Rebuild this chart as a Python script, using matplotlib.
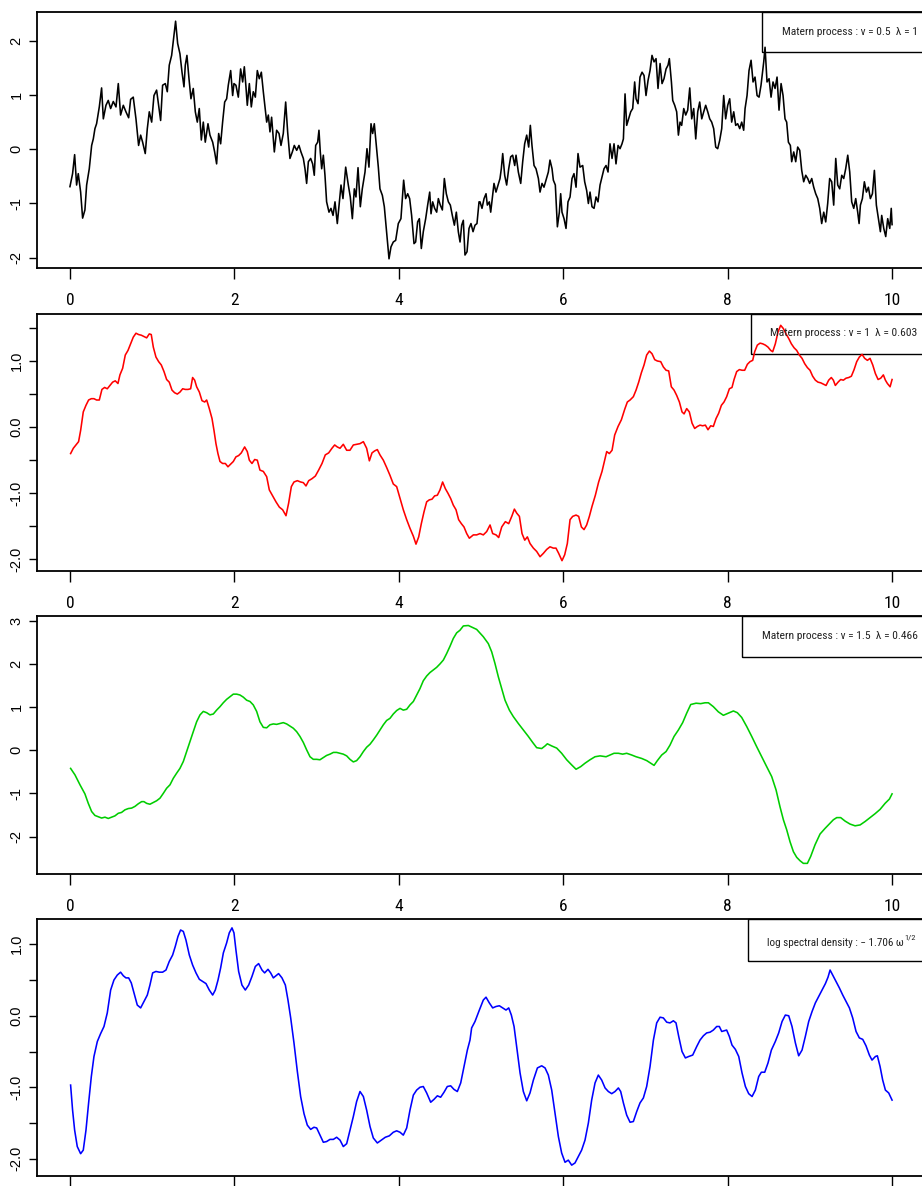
import matplotlib
matplotlib.use('Agg')
import matplotlib.pyplot as plt
from matplotlib import font_manager as fm
from matplotlib.patches import Rectangle

# ---- panel 1 : Matern nu = 0.5 (black)
nu05_x = [0.000,0.032,0.057,0.081,0.101,0.130,0.154,0.182,0.203,0.235,
          0.264,0.284,0.304,0.324,0.357,0.385,0.406,0.438,0.466,0.495,
          0.527,0.560,0.588,0.616,0.649,0.681,0.714,0.738,0.770,0.803,
          0.835,0.860,0.884,0.916,0.941,0.965,0.994,1.022,1.054,1.079,
          1.103,1.127,1.160,1.184,1.208,1.237,1.261,1.285,1.310,1.338,
          1.363,1.387,1.403,1.423,1.448,1.472,1.500,1.525,1.549,1.573,
          1.598,1.622,1.646,1.679,1.703,1.736,1.760,1.784,1.809,1.833,
          1.857,1.882,1.906,1.926,1.955,1.979,1.995,2.019,2.048,2.076,
          2.101,2.121,2.141,2.157,2.182,2.206,2.230,2.255,2.279,2.303,
          2.328,2.352,
          2.393,2.413,2.433,2.453,2.486,2.514,2.543,2.567,2.595,2.624,
          2.648,2.676,2.705,2.729,2.758,2.786,2.810,2.839,2.859,2.879,
          2.900,2.928,2.952,2.972,2.989,3.013,3.029,3.045,3.062,3.082,
          3.102,3.122,3.151,3.175,3.200,3.224,3.252,3.273,3.297,3.321,
          3.354,3.386,3.410,3.435,3.459,3.479,3.504,3.532,3.556,3.589,
          3.613,3.637,3.662,3.682,3.702,3.727,3.751,3.771,3.800,3.824,
          3.848,3.881,3.905,3.933,3.962,3.994,4.026,4.059,4.083,4.108,
          4.132,4.156,4.185,4.205,4.229,4.250,4.274,4.298,4.327,4.351,
          4.376,4.392,4.412,4.436,4.461,4.481,4.505,4.530,4.554,4.578,
          4.603,4.627,4.651,4.676,4.700,4.724,4.745,4.765,4.785,4.805,
          4.830,4.854,4.878,4.903,4.927,4.951,4.976,
          4.988,5.012,5.037,5.061,5.077,5.101,5.118,5.142,5.158,5.182,
          5.207,5.231,5.247,5.264,5.288,5.312,5.337,5.361,5.385,5.410,
          5.426,5.454,5.483,5.507,5.531,5.556,5.580,5.600,5.620,5.645,
          5.669,5.698,5.718,5.742,5.766,5.791,5.819,5.839,5.864,5.880,
          5.904,5.929,5.953,5.969,5.985,6.010,6.034,6.058,6.083,6.107,
          6.131,6.156,6.180,6.204,6.237,6.261,6.285,6.306,6.326,6.350,
          6.375,6.399,6.423,6.448,6.472,6.496,6.521,6.545,6.569,6.594,
          6.618,6.642,6.667,6.691,6.715,6.732,6.752,6.772,6.796,6.821,
          6.845,6.869,6.886,6.910,6.934,6.959,6.983,7.007,7.032,7.056,
          7.080,7.105,7.129,7.153,7.178,7.202,7.226,7.251,7.275,7.291,
          7.316,7.332,7.356,
          7.380,7.401,7.421,7.441,7.466,7.490,7.514,7.539,7.563,7.587,
          7.612,7.636,7.660,7.685,7.709,7.733,7.758,7.782,7.806,7.830,
          7.855,7.879,7.903,7.928,7.952,7.976,8.001,8.025,8.049,8.074,
          8.098,8.122,8.147,8.171,8.195,8.212,8.236,8.260,8.285,8.309,
          8.333,8.358,8.382,8.406,8.422,8.439,8.455,8.479,8.504,8.528,
          8.552,8.577,8.601,8.625,8.650,8.674,8.698,8.718,8.739,8.763,
          8.779,8.804,8.828,8.852,8.877,8.901,8.925,8.950,8.974,8.998,
          9.023,9.047,9.071,9.096,9.120,9.144,9.169,9.193,9.217,9.241,
          9.266,9.290,9.315,9.339,9.363,9.388,9.412,9.436,9.461,9.485,
          9.509,9.534,9.558,9.582,9.599,9.615,9.639,9.663,9.688,9.712,
          9.736,9.761,9.785,9.809,9.834,9.858,9.874,9.899,9.923,9.947,
          9.972,9.990,10.0]
nu05_y = [-0.69,-0.45,-0.10,-0.66,-0.45,-0.79,-1.27,-1.12,-0.66,-0.36,
          0.07,0.19,0.38,0.47,0.78,1.13,0.56,0.81,0.90,0.75,
          0.88,0.78,1.21,0.63,0.81,0.69,0.58,0.92,0.96,0.56,
          0.07,0.26,0.13,-0.08,0.38,0.69,0.50,0.99,1.09,0.81,
          0.53,1.18,1.21,1.06,1.55,1.73,2.04,2.36,1.95,1.76,
          1.42,1.15,1.55,1.73,1.30,0.93,1.12,0.69,0.50,0.75,
          0.17,0.50,0.13,0.47,0.26,0.13,-0.05,-0.27,0.29,0.10,
          0.50,0.87,0.93,1.18,1.45,0.99,1.21,1.18,0.96,1.48,
          1.24,1.52,1.15,0.81,1.21,0.78,1.06,0.96,1.45,1.30,
          1.42,1.06,
          0.50,0.63,0.32,0.59,-0.05,0.35,0.29,0.07,0.29,0.87,
          0.32,-0.17,-0.05,0.07,-0.02,0.07,-0.05,-0.17,-0.36,-0.63,
          -0.23,-0.17,-0.27,-0.48,0.07,0.13,0.35,-0.05,-0.36,-0.11,
          -0.48,-0.97,-1.16,-1.09,-1.22,-0.97,-1.37,-1.03,-0.66,-0.91,
          -0.33,-0.66,-0.88,-1.28,-0.73,-0.88,-0.34,-1.06,-0.73,-0.42,
          0.01,-0.33,0.47,0.29,0.47,0.07,-0.33,-0.73,-0.85,-1.06,
          -1.46,-2.02,-1.80,-1.71,-1.68,-1.37,-1.28,-0.57,-0.91,-0.82,
          -0.91,-1.22,-1.74,-1.71,-1.34,-1.28,-1.83,-1.52,-1.28,-1.03,
          -0.79,-1.19,-0.97,-1.09,-1.16,-0.91,-1.03,-1.12,-0.54,-0.82,
          -0.97,-1.03,-1.22,-1.40,-1.16,-1.52,-1.71,-1.40,-1.31,-1.95,
          -1.89,-1.46,-1.37,-1.52,-1.40,-1.37,-0.97,
          -0.97,-1.09,-0.91,-0.82,-1.03,-0.97,-1.16,-0.85,-0.63,-0.79,
          -0.66,-0.54,-0.36,-0.08,-0.48,-0.66,-0.36,-0.14,-0.11,-0.30,
          -0.11,-0.42,-0.63,-0.23,0.10,0.26,0.04,0.44,0.07,-0.30,
          -0.36,-0.54,-0.79,-0.63,-0.70,-0.57,-0.42,-0.20,-0.36,-0.57,
          -0.66,-1.43,-1.16,-0.82,-1.16,-1.28,-1.46,-0.97,-0.88,-0.54,
          -0.45,-0.70,-0.08,-0.33,-0.30,-0.60,-0.76,-1.00,-0.79,-1.06,
          -1.09,-0.88,-0.97,-0.66,-0.51,-0.36,-0.30,-0.42,0.10,-0.17,
          0.10,-0.27,0.07,0.01,0.10,0.19,1.02,0.44,0.56,0.69,
          0.75,1.24,0.93,0.84,1.33,1.42,1.36,0.99,1.27,1.45,
          1.73,1.61,1.67,1.12,1.58,1.21,1.30,1.48,1.55,1.67,
          1.24,0.90,0.81,
          0.69,0.26,0.50,0.44,0.75,0.63,0.72,1.13,0.56,0.75,
          0.19,0.69,0.87,0.56,0.69,0.81,0.69,0.56,0.50,0.38,
          0.04,0.01,0.16,0.38,0.99,0.56,0.81,0.93,0.50,0.69,
          0.44,0.47,0.38,0.50,0.35,0.75,0.99,1.45,1.64,1.24,
          1.33,0.99,0.96,1.18,1.39,1.61,1.88,1.24,1.30,0.96,
          1.24,1.12,1.33,0.72,1.21,0.99,0.56,0.50,0.13,0.07,
          -0.23,-0.05,-0.23,0.04,-0.02,-0.39,-0.60,-0.48,-0.54,-0.63,
          -0.54,-0.70,-0.82,-0.91,-1.09,-1.37,-1.16,-1.34,-1.00,-0.54,
          -0.60,-1.03,-0.17,-0.66,-0.73,-0.48,-0.54,-0.36,-0.11,-0.42,
          -0.97,-1.09,-0.91,-1.16,-1.37,-1.03,-0.91,-0.60,-0.79,-0.70,
          -0.91,-0.82,-0.39,-1.03,-1.28,-1.52,-1.22,-1.46,-1.61,-1.28,
          -1.46,-1.09,-1.39]

# ---- panel 2 : Matern nu = 1 (red)
nu1_x = [0.008,0.041,0.073,0.105,0.130,0.162,0.195,0.227,0.260,0.292,
         0.324,0.357,0.389,0.422,0.454,0.487,0.519,0.551,0.584,0.608,
         0.641,0.673,0.706,0.738,0.770,0.803,0.835,0.868,0.900,0.933,
         0.965,0.989,1.014,1.046,1.079,1.111,1.144,1.176,1.208,1.241,
         1.273,1.306,1.338,1.371,1.403,1.436,1.468,1.492,1.517,1.541,
         1.574,1.606,1.639,1.663,1.695,1.728,1.752,1.776,1.800,1.825,
         1.857,1.890,1.922,1.955,1.987,2.019,2.052,2.084,2.125,2.157,
         2.182,2.214,2.247,2.279,2.311,2.352,2.393,2.425,2.466,2.506,
         2.547,2.587,2.628,2.660,2.693,2.725,2.766,2.806,2.839,2.871,
         2.904,2.944,2.985,3.025,3.066,3.106,3.147,3.187,3.220,3.252,
         3.285,3.325,3.366,3.406,3.447,3.487,3.528,3.569,3.609,3.642,
         3.674,3.706,3.739,3.771,3.812,3.852,3.893,3.933,3.974,4.015,
         4.055,4.096,4.136,4.177,4.209,4.242,4.274,4.307,4.339,4.371,
         4.404,4.436,4.469,4.501,4.533,4.566,4.598,4.631,4.663,4.696,
         4.728,4.761,4.793,4.826,4.858,
         4.907,4.947,4.988,5.028,5.069,5.110,5.142,5.183,5.215,5.252,
         5.296,5.337,5.377,5.406,5.434,5.467,5.499,5.532,5.564,5.596,
         5.637,5.677,5.718,5.758,5.799,5.839,5.880,5.912,5.945,5.985,
         6.018,6.050,6.083,6.115,6.156,6.188,6.221,6.253,6.285,6.318,
         6.350,6.391,6.431,6.472,6.504,6.529,6.561,6.594,6.626,6.667,
         6.707,6.748,6.780,6.813,6.853,6.886,6.918,6.950,6.983,7.015,
         7.048,7.080,7.113,7.145,7.186,7.218,7.251,7.283,7.315,7.348,
         7.380,7.413,7.445,7.470,7.502,7.534,7.567,7.599,7.632,7.664,
         7.696,7.729,7.761,7.794,7.826,7.859,7.891,7.924,7.956,7.988,
         8.021,8.053,8.078,8.110,8.143,8.175,8.207,8.240,8.272,8.305,
         8.329,8.361,8.394,8.426,8.459,8.491,8.524,8.548,8.580,8.613,
         8.645,8.678,8.710,8.743,8.775,8.808,8.840,8.872,8.905,8.937,
         8.970,9.002,9.034,9.067,9.099,9.132,9.164,9.197,9.229,9.261,
         9.286,9.310,9.343,9.375,9.408,9.440,9.473,9.505,9.538,9.570,
         9.602,9.635,9.667,9.700,9.732,9.765,9.797,9.830,9.862,9.894,
         9.919,9.943,9.976,10.0]
nu1_y = [-0.40,-0.32,-0.27,-0.22,-0.05,0.23,0.33,0.41,0.43,0.43,
         0.41,0.41,0.57,0.60,0.58,0.63,0.68,0.70,0.66,0.79,
         0.89,1.09,1.16,1.26,1.36,1.42,1.40,1.39,1.37,1.35,
         1.41,1.40,1.21,1.06,0.99,0.94,0.84,0.72,0.68,0.56,
         0.52,0.50,0.53,0.58,0.57,0.57,0.58,0.75,0.71,0.61,
         0.53,0.40,0.38,0.41,0.28,0.13,-0.05,-0.25,-0.40,-0.52,
         -0.55,-0.55,-0.60,-0.56,-0.52,-0.45,-0.43,-0.39,-0.30,-0.37,
         -0.50,-0.55,-0.49,-0.50,-0.65,-0.67,-0.75,-0.95,-1.04,-1.13,
         -1.21,-1.25,-1.34,-1.15,-0.90,-0.83,-0.81,-0.83,-0.84,-0.89,
         -0.81,-0.78,-0.74,-0.65,-0.55,-0.42,-0.39,-0.32,-0.27,-0.30,
         -0.32,-0.26,-0.35,-0.35,-0.27,-0.26,-0.25,-0.22,-0.32,-0.51,
         -0.39,-0.36,-0.34,-0.42,-0.50,-0.61,-0.73,-0.86,-0.90,-1.08,
         -1.25,-1.40,-1.53,-1.65,-1.77,-1.66,-1.46,-1.28,-1.13,-1.10,
         -1.09,-1.04,-1.03,-0.95,-0.83,-0.93,-1.00,-1.08,-1.18,-1.25,
         -1.40,-1.46,-1.51,-1.61,-1.68,
         -1.63,-1.63,-1.61,-1.63,-1.58,-1.48,-1.61,-1.63,-1.67,-1.51,
         -1.43,-1.46,-1.34,-1.24,-1.30,-1.35,-1.61,-1.71,-1.66,-1.76,
         -1.83,-1.88,-1.96,-1.91,-1.85,-1.81,-1.83,-1.83,-1.91,-2.02,
         -1.93,-1.76,-1.40,-1.35,-1.33,-1.35,-1.51,-1.55,-1.48,-1.35,
         -1.20,-1.03,-0.83,-0.67,-0.50,-0.37,-0.40,-0.35,-0.12,0.01,
         0.11,0.27,0.38,0.41,0.46,0.56,0.68,0.82,0.94,1.09,
         1.15,1.11,1.02,1.00,0.99,0.91,0.86,0.85,0.61,0.56,
         0.48,0.38,0.23,0.20,0.28,0.23,0.06,-0.02,0.01,0.03,
         0.02,0.03,-0.04,0.02,0.01,0.13,0.21,0.33,0.38,0.46,
         0.58,0.60,0.72,0.84,0.87,0.86,0.86,0.95,0.99,1.01,
         1.14,1.24,1.27,1.26,1.24,1.21,1.16,1.14,1.26,1.44,
         1.54,1.49,1.41,1.34,1.26,1.20,1.16,1.09,1.04,0.96,
         0.90,0.86,0.77,0.71,0.68,0.67,0.65,0.63,0.71,0.75,
         0.71,0.63,0.68,0.72,0.71,0.74,0.75,0.77,0.87,0.99,
         1.06,1.10,1.04,1.01,1.04,0.94,0.81,0.72,0.74,0.79,
         0.71,0.66,0.61,0.72]

# ---- panel 3 : Matern nu = 1.5 (green)
nu15_x = [0.008,0.061,0.122,0.182,0.223,0.264,0.304,0.345,0.385,0.426,
          0.466,0.507,0.547,0.588,0.628,0.669,0.710,0.750,0.791,0.831,
          0.872,0.900,0.933,0.973,1.014,1.054,1.095,1.135,1.176,1.217,
          1.257,1.298,1.338,1.379,1.419,1.460,1.500,1.541,1.582,1.622,
          1.663,1.703,1.744,1.784,1.825,1.865,1.906,1.946,1.987,2.028,
          2.068,2.109,2.149,2.190,2.230,2.271,2.311,2.352,2.393,2.433,
          2.474,2.514,2.555,2.595,2.636,2.676,2.717,2.758,2.798,2.839,
          2.879,2.920,2.960,3.001,3.041,3.082,3.122,3.163,3.204,3.244,
          3.285,3.325,3.366,3.406,3.447,3.487,3.528,3.569,3.609,3.650,
          3.690,3.731,3.771,3.812,3.852,3.893,3.933,3.974,4.015,4.055,
          4.096,4.136,4.177,4.217,4.258,4.298,4.339,4.379,4.420,4.460,
          4.501,4.542,4.582,4.623,4.663,4.704,4.744,
          4.785,4.846,4.947,5.028,5.089,5.130,5.170,5.211,5.251,5.292,
          5.345,5.393,5.454,5.515,5.576,5.629,5.677,5.738,5.779,5.807,
          5.860,5.921,5.981,6.042,6.103,6.156,6.212,6.265,6.326,6.387,
          6.448,6.521,6.569,6.618,6.671,6.723,6.772,6.833,6.886,6.955,
          7.016,7.064,7.105,7.145,7.198,7.251,7.299,7.348,7.401,7.453,
          7.502,7.551,7.616,7.672,7.725,7.766,7.826,7.887,7.948,8.009,
          8.070,8.118,8.171,8.232,8.293,8.354,8.414,8.475,8.536,8.589,
          8.637,8.678,8.718,8.759,8.800,8.840,8.881,8.921,8.970,9.010,
          9.063,9.124,9.185,9.246,9.286,9.327,9.375,9.428,9.489,9.550,
          9.611,9.672,9.732,9.793,9.854,9.915,9.968,10.0]
nu15_y = [-0.42,-0.57,-0.80,-1.01,-1.23,-1.42,-1.51,-1.54,-1.57,-1.55,
          -1.58,-1.55,-1.52,-1.46,-1.44,-1.38,-1.35,-1.34,-1.30,-1.24,
          -1.19,-1.19,-1.23,-1.25,-1.21,-1.17,-1.11,-1.00,-0.88,-0.80,
          -0.65,-0.53,-0.42,-0.26,-0.03,0.20,0.43,0.66,0.82,0.90,
          0.87,0.82,0.84,0.93,1.01,1.10,1.18,1.24,1.30,1.30,
          1.28,1.23,1.16,1.13,1.05,0.90,0.66,0.53,0.52,0.59,
          0.61,0.60,0.62,0.64,0.61,0.56,0.51,0.43,0.32,0.18,
          0.01,-0.15,-0.21,-0.21,-0.22,-0.17,-0.12,-0.09,-0.05,-0.05,
          -0.07,-0.09,-0.13,-0.21,-0.27,-0.24,-0.15,-0.03,0.07,0.14,
          0.24,0.35,0.47,0.59,0.69,0.74,0.84,0.92,0.97,0.93,
          0.95,1.05,1.13,1.28,1.43,1.61,1.72,1.80,1.86,1.92,
          2.00,2.09,2.24,2.41,2.59,2.72,2.78,
          2.88,2.89,2.80,2.63,2.47,2.28,2.01,1.70,1.43,1.16,
          0.93,0.78,0.62,0.47,0.32,0.18,0.06,0.04,0.10,0.15,
          0.10,0.05,-0.07,-0.22,-0.34,-0.44,-0.38,-0.30,-0.22,-0.15,
          -0.13,-0.15,-0.11,-0.07,-0.07,-0.09,-0.07,-0.11,-0.15,-0.19,
          -0.24,-0.30,-0.35,-0.24,-0.11,-0.03,0.12,0.32,0.47,0.64,
          0.86,1.06,1.09,1.08,1.10,1.10,1.01,0.89,0.81,0.86,
          0.91,0.87,0.76,0.55,0.32,0.08,-0.15,-0.38,-0.61,-0.92,
          -1.31,-1.61,-1.84,-2.12,-2.35,-2.48,-2.56,-2.62,-2.62,-2.46,
          -2.19,-1.94,-1.81,-1.69,-1.61,-1.56,-1.56,-1.64,-1.71,-1.75,
          -1.73,-1.65,-1.56,-1.47,-1.37,-1.23,-1.13,-1.01]

# ---- panel 4 : log spectral density -1.706 w^(1/2) (blue)
lsd_x = [0.008,0.032,0.057,0.089,0.130,0.162,0.195,0.227,0.260,0.292,
         0.333,0.373,0.414,0.454,0.495,0.535,0.576,0.616,0.649,0.681,
         0.714,0.746,0.779,0.819,0.860,0.900,0.941,0.973,1.006,1.046,
         1.087,1.127,1.168,1.208,1.249,1.281,1.314,1.346,1.379,1.411,
         1.452,1.492,1.533,1.574,1.614,1.655,1.695,1.736,1.768,1.801,
         1.833,1.866,1.906,1.938,1.971,1.995,2.019,2.052,2.092,2.133,
         2.174,2.214,2.255,2.295,2.336,2.368,2.409,2.441,2.474,2.506,
         2.538,2.579,2.620,2.652,2.685,2.725,2.766,2.806,2.847,2.887,
         2.928,2.968,3.001,3.041,3.082,3.122,3.163,3.204,3.244,3.285,
         3.325,3.366,3.406,3.447,3.487,3.528,3.569,3.609,3.650,3.690,
         3.739,3.788,3.836,3.885,3.933,3.974,4.015,4.055,4.096,4.136,
         4.177,4.217,4.258,4.298,4.339,4.388,4.428,4.469,4.509,4.550,
         4.590,4.631,4.671,4.712,4.753,4.793,4.834,4.866,
         4.886,4.927,4.980,5.028,5.061,5.101,5.142,5.183,5.223,5.264,
         5.304,5.337,5.369,5.402,5.434,5.475,5.515,5.556,5.596,5.637,
         5.686,5.738,5.779,5.819,5.860,5.900,5.941,5.981,6.022,6.062,
         6.103,6.143,6.184,6.224,6.265,6.306,6.346,6.387,6.427,6.468,
         6.509,6.549,6.590,6.630,6.671,6.699,6.732,6.772,6.813,6.853,
         6.894,6.934,6.975,7.015,7.056,7.097,7.137,7.178,7.218,7.259,
         7.299,7.340,7.372,7.405,7.445,7.486,7.526,7.575,7.624,7.664,
         7.705,7.745,7.786,7.826,7.867,7.899,7.928,7.956,7.988,8.021,
         8.053,8.094,8.135,8.175,8.216,8.256,8.297,8.337,8.378,8.410,
         8.451,8.491,8.532,8.580,8.621,8.662,8.702,8.743,8.783,8.824,
         8.864,8.905,8.945,8.986,9.027,9.067,9.108,9.148,9.189,9.221,
         9.246,9.278,9.319,9.359,9.400,9.440,9.481,9.521,9.562,9.602,
         9.643,9.683,9.724,9.756,9.797,9.821,9.854,9.886,9.919,9.959,
         10.0]
lsd_y = [-0.97,-1.32,-1.60,-1.83,-1.93,-1.88,-1.60,-1.22,-0.85,-0.57,
         -0.36,-0.25,-0.15,0.04,0.36,0.50,0.57,0.61,0.56,0.53,
         0.53,0.46,0.32,0.15,0.11,0.20,0.29,0.43,0.60,0.62,
         0.61,0.61,0.64,0.76,0.85,0.97,1.11,1.20,1.18,1.06,
         0.85,0.71,0.60,0.51,0.48,0.45,0.36,0.29,0.36,0.50,
         0.67,0.88,1.02,1.16,1.23,1.16,0.92,0.62,0.43,0.36,
         0.43,0.55,0.69,0.73,0.64,0.60,0.65,0.60,0.53,0.56,
         0.59,0.53,0.43,0.22,-0.03,-0.38,-0.78,-1.13,-1.37,-1.53,
         -1.59,-1.56,-1.57,-1.67,-1.77,-1.76,-1.73,-1.73,-1.70,-1.74,
         -1.83,-1.79,-1.60,-1.41,-1.20,-1.06,-1.13,-1.32,-1.55,-1.71,
         -1.78,-1.74,-1.70,-1.68,-1.63,-1.61,-1.63,-1.67,-1.57,-1.32,
         -1.11,-1.04,-1.00,-0.99,-1.08,-1.21,-1.17,-1.12,-1.14,-1.07,
         -0.99,-0.98,-1.03,-1.06,-0.94,-0.71,-0.48,-0.34,
         -0.17,-0.08,0.08,0.22,0.26,0.18,0.11,0.13,0.14,0.11,
         0.08,0.11,0.01,-0.15,-0.43,-0.80,-1.06,-1.19,-1.08,-0.90,
         -0.73,-0.70,-0.73,-0.83,-1.04,-1.36,-1.69,-1.92,-2.05,-2.02,
         -2.09,-2.06,-1.97,-1.88,-1.74,-1.50,-1.18,-0.94,-0.83,-0.90,
         -1.01,-1.06,-1.09,-1.06,-1.01,-1.06,-1.22,-1.39,-1.49,-1.48,
         -1.34,-1.22,-1.15,-0.99,-0.71,-0.34,-0.10,-0.02,-0.03,-0.09,
         -0.10,-0.07,-0.10,-0.29,-0.50,-0.59,-0.57,-0.55,-0.43,-0.34,
         -0.28,-0.24,-0.23,-0.20,-0.15,-0.15,-0.22,-0.21,-0.20,-0.29,
         -0.41,-0.47,-0.57,-0.80,-0.99,-1.09,-1.13,-1.04,-0.85,-0.79,
         -0.79,-0.66,-0.48,-0.36,-0.24,-0.08,0.01,0.00,-0.15,-0.38,
         -0.56,-0.48,-0.29,-0.08,0.06,0.18,0.27,0.36,0.45,0.54,
         0.64,0.57,0.48,0.39,0.29,0.20,0.11,-0.03,-0.22,-0.31,
         -0.33,-0.42,-0.55,-0.62,-0.57,-0.56,-0.71,-0.90,-1.04,-1.08,
         -1.18]

x_ticks = [0, 2, 4, 6, 8, 10]
legend_texts = ['Matern process : \u03bd = 0.5  \u03bb = 1',
                'Matern process : \u03bd = 1  \u03bb = 0.603',
                'Matern process : \u03bd = 1.5  \u03bb = 0.466',
                'log spectral density : \u2212 1.706 \u03c9']
legend_sup = [None, None, None, '1/2']


# look for a narrow sans face; fall back to Liberation Sans
def find_narrow():
    names = ['Liberation Sans Narrow', 'Arial Narrow', 'DejaVu Sans Condensed',
             'Roboto Condensed', 'Open Sans Condensed', 'Noto Sans Condensed']
    fonts = fm.fontManager.ttflist
    for n in names:
        for f in fonts:
            if f.name == n and f.style == 'normal' and f.weight in (400, 'normal', 'regular'):
                return fm.FontProperties(fname=f.fname), True
    for f in fonts:
        if (f.name in ('Noto Sans', 'DejaVu Sans', 'Open Sans', 'Roboto')
                and str(f.stretch) in ('condensed', 'semi-condensed')
                and f.style == 'normal' and f.weight in (400, 'normal', 'regular')):
            return fm.FontProperties(fname=f.fname), True
    return fm.FontProperties(family=['Liberation Sans', 'DejaVu Sans']), False


narrow_fp, is_narrow = find_narrow()
REG = ['Liberation Sans', 'DejaVu Sans']

fig = plt.figure(figsize=(9.22, 11.86), dpi=100)

panels = [
    # bottom, height, ylim, yticks, ylabels, x, y, color, box(x0, y0), text(x, y)
    (0.7740, 0.2159, (-2.19, 2.53), [-2, -1, 0, 1, 2], ['-2', '-1', '0', '1', '2'],
     nu05_x, nu05_y, 'black', (0.817, 0.844), (0.8385, 0.922)),
    (0.5185, 0.2167, (-2.177, 1.71), [-2, -1.5, -1, -0.5, 0, 0.5, 1, 1.5],
     ['-2.0', '', '-1.0', '', '0.0', '', '1.0', ''],
     nu1_x, nu1_y, '#ff0000', (0.804, 0.843), (0.8253, 0.926)),
    (0.2633, 0.2173, (-2.86, 3.11), [-2, -1, 0, 1, 2, 3], ['-2', '-1', '0', '1', '2', '3'],
     nu15_x, nu15_y, '#00cd00', (0.794, 0.840), (0.816, 0.922)),
    (0.00868, 0.2162, (-2.238, 1.35), [-2, -1.5, -1, -0.5, 0, 0.5, 1],
     ['-2.0', '', '-1.0', '', '0.0', '', '1.0'],
     lsd_x, lsd_y, '#0000ff', (0.801, 0.837), (0.8216, 0.906)),
]

xtick_size = 12.5 if is_narrow else 10
legend_size = 11 if is_narrow else 8.5

texts = []
for i, (bot, h, ylim, yt, yl, xs, ys, col, box, tpos) in enumerate(panels):
    ax = fig.add_axes([0.0402, bot, 0.963, h])
    ax.plot(xs, ys, color=col, lw=1.15)
    ax.set_xlim(-0.4, 10.4)
    ax.set_ylim(*ylim)
    ax.set_xticks(x_ticks)
    if i < 3:
        ax.set_xticklabels([str(t) for t in x_ticks], fontproperties=narrow_fp,
                           fontsize=xtick_size)
    else:
        # the last row's labels fall below the picture in the original
        ax.set_xticklabels([])
    ax.set_yticks(yt)
    ax.set_yticklabels(yl, rotation=90, va='center', family=REG, fontsize=10.5)
    ax.tick_params(axis='x', length=8, width=1.0, pad=10)
    ax.tick_params(axis='y', length=5.8, width=1.0, pad=4)
    for s in ['top', 'left', 'bottom']:
        ax.spines[s].set_linewidth(1.3)
    ax.spines['right'].set_visible(False)

    ax.add_patch(Rectangle((box[0], box[1]), 0.3, 1 - box[1], transform=ax.transAxes,
                           fill=False, lw=1.0, ec='black', clip_on=False))
    t = ax.text(tpos[0], tpos[1], legend_texts[i], transform=ax.transAxes,
                ha='left', va='center', fontproperties=narrow_fp,
                fontsize=legend_size, color='#222222')
    texts.append((ax, t))

# shrink legend texts until they fit inside the figure
fig.canvas.draw()
r = fig.canvas.get_renderer()
limit = fig.bbox.width - 2
for i, (ax, t) in enumerate(texts):
    room = limit - (13 if legend_sup[i] else 0)
    while t.get_window_extent(r).x1 > room and t.get_fontsize() > 5:
        t.set_fontsize(t.get_fontsize() - 0.25)
    if legend_sup[i]:
        ax.annotate(legend_sup[i], xy=(1.0, 0.8), xycoords=t, xytext=(0.5, 0),
                    textcoords='offset points', ha='left', va='bottom',
                    fontproperties=narrow_fp, fontsize=t.get_fontsize() * 0.75,
                    color='#222222')

fig.savefig('out.png', dpi=100)
